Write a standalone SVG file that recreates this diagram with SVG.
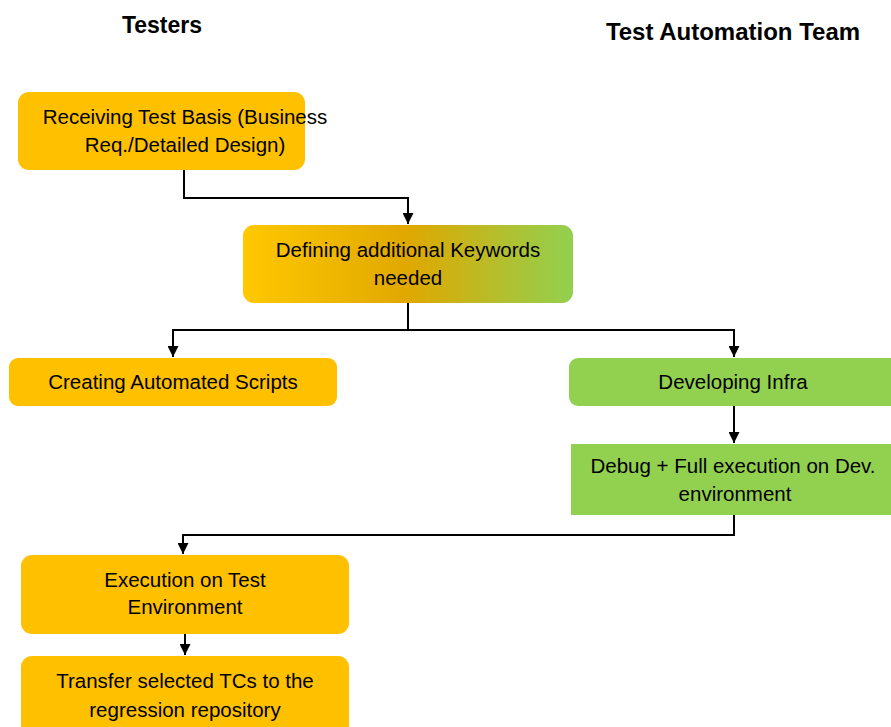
<svg xmlns="http://www.w3.org/2000/svg" width="891" height="727" viewBox="0 0 891 727">
<style>
.hdr{font-family:"Liberation Sans",Arial,sans-serif;font-weight:bold;fill:#000;text-anchor:middle}
.t{font-family:"Liberation Sans",Arial,sans-serif;font-size:20.5px;fill:#000;text-anchor:middle}
.or{fill:#FFC000}
.gr{fill:#92D050}
.c{fill:none;stroke:#000;stroke-width:2}
</style>
<defs>
<linearGradient id="g1" x1="0" y1="0" x2="1" y2="0">
<stop offset="0" stop-color="#FFC800"/>
<stop offset="0.5" stop-color="#E0A800"/>
<stop offset="1" stop-color="#92D050"/>
</linearGradient>
<marker id="ah" viewBox="0 0 10 10" refX="10" refY="5" markerWidth="6" markerHeight="5.5" markerUnits="strokeWidth" orient="auto">
<path d="M0,0 L10,5 L0,10 z" fill="#000"/>
</marker>
</defs>
<rect width="891" height="727" fill="#fff"/>
<text class="hdr" x="162" y="33" font-size="23">Testers</text>
<text class="hdr" x="733" y="40" font-size="24">Test Automation Team</text>
<g id="connectors">
<path class="c" d="M184,170 V198 H408 V224" marker-end="url(#ah)"/>
<path class="c" d="M408,303 V330 H173 V357" marker-end="url(#ah)"/>
<path class="c" d="M408,330 H734 V357" marker-end="url(#ah)"/>
<path class="c" d="M734,406 V443" marker-end="url(#ah)"/>
<path class="c" d="M734,515 V535 H183 V554" marker-end="url(#ah)"/>
<path class="c" d="M185,634 V655" marker-end="url(#ah)"/>
</g>
<g id="n1">
<rect class="or" x="18" y="92" width="287" height="78" rx="11"/>
<text class="t" x="185" y="124">Receiving Test Basis (Business</text>
<text class="t" x="185" y="152">Req./Detailed Design)</text>
</g>
<g id="n2">
<rect x="243" y="225" width="330" height="78" rx="11" fill="url(#g1)"/>
<text class="t" x="408" y="257">Defining additional Keywords</text>
<text class="t" x="408" y="285">needed</text>
</g>
<g id="n3">
<rect class="or" x="9" y="358" width="328" height="48" rx="9"/>
<text class="t" x="173" y="389">Creating Automated Scripts</text>
</g>
<g id="n4">
<rect class="gr" x="569" y="358" width="335" height="48" rx="9"/>
<text class="t" x="733" y="389">Developing Infra</text>
</g>
<g id="n5">
<rect class="gr" x="571" y="444" width="330" height="71"/>
<text class="t" x="733" y="473">Debug + Full execution on Dev.</text>
<text class="t" x="735" y="501">environment</text>
</g>
<g id="n6">
<rect class="or" x="21" y="555" width="328" height="79" rx="11"/>
<text class="t" x="185" y="587">Execution on Test</text>
<text class="t" x="185" y="614">Environment</text>
</g>
<g id="n7">
<rect class="or" x="21" y="656" width="328" height="90" rx="11"/>
<text class="t" x="185" y="688">Transfer selected TCs to the</text>
<text class="t" x="185" y="717">regression repository</text>
</g>
</svg>
